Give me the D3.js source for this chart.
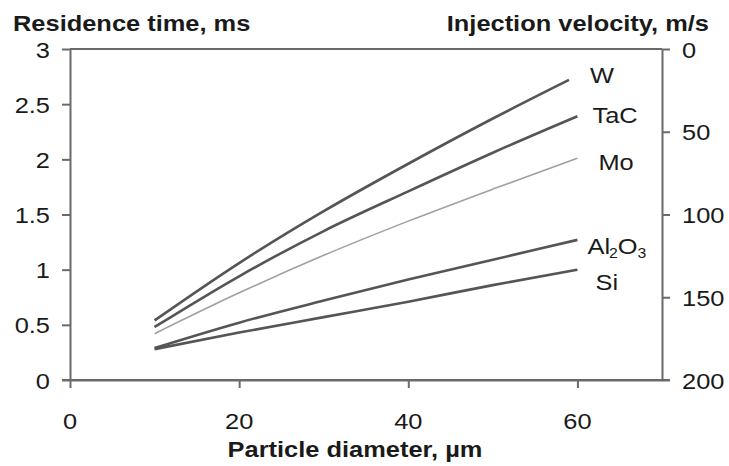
<!DOCTYPE html>
<html>
<head>
<meta charset="utf-8">
<script src="https://cdn.jsdelivr.net/npm/d3@7/dist/d3.min.js"></script>
<style>
  html, body { margin: 0; padding: 0; background: #fff; }
  svg text { font-family: "Liberation Sans", Arial, sans-serif; fill: #1a1a1a; }
</style>
</head>
<body>
<svg id="chart" width="729" height="466"></svg>
<script>
// ---- data ----
const diameters  = [10, 20, 30, 40, 50, 60];
const wDiameters = [10, 20, 30, 40, 50, 59];
const seriesNames = ["W", "TaC", "Mo", "Al2O3", "Si"];
const valuesW     = [0.54, 1.06, 1.53, 1.96, 2.37, 2.72];
const valuesTaC   = [0.48, 0.94, 1.35, 1.71, 2.06, 2.39];
const valuesMo    = [0.42, 0.79, 1.13, 1.44, 1.73, 2.01];
const valuesAl2O3 = [0.29, 0.52, 0.72, 0.91, 1.09, 1.27];
const valuesSi    = [0.28, 0.43, 0.57, 0.71, 0.86, 1.00];
const xTicks      = [0, 20, 40, 60];
const yLeftTicks  = [0, 0.5, 1, 1.5, 2, 2.5, 3];
const yRightTicks = [0, 50, 100, 150, 200];

const series = [
  { name: "W",     xs: wDiameters, ys: valuesW },
  { name: "TaC",   xs: diameters,  ys: valuesTaC },
  { name: "Mo",    xs: diameters,  ys: valuesMo },
  { name: "Al2O3", xs: diameters,  ys: valuesAl2O3 },
  { name: "Si",    xs: diameters,  ys: valuesSi }
];

// ---- layout ----
const L = 70, R = 662, T = 49, B = 380;
const SX = 1.13, FS = 22.5;
const axisColor = "#6a6a6a";

const x  = d3.scaleLinear().domain([0, 70]).range([L, R]);
const yL = d3.scaleLinear().domain([0, 3]).range([B, T]);
const yR = d3.scaleLinear().domain([0, 200]).range([T, B]);

const svg = d3.select("#chart");

function label(g, tx, ty, txt, anchor, bold, size) {
  return g.append("text")
    .attr("transform", `translate(${tx},${ty}) scale(${SX},1)`)
    .attr("text-anchor", anchor)
    .style("font-size", (size || FS) + "px")
    .style("font-weight", bold ? "bold" : "normal")
    .text(txt);
}

// top border
svg.append("line").attr("x1", L).attr("x2", R).attr("y1", T).attr("y2", T)
  .attr("stroke", axisColor).attr("stroke-width", 2);

// left axis
const gL = svg.append("g").attr("transform", `translate(${L},0)`)
  .call(d3.axisLeft(yL).tickValues(yLeftTicks).tickSize(8).tickSizeOuter(0).tickFormat(""));
// right axis
const gR = svg.append("g").attr("transform", `translate(${R},0)`)
  .call(d3.axisRight(yR).tickValues(yRightTicks).tickSize(8).tickSizeOuter(0).tickFormat(""));
// bottom axis
const gB = svg.append("g").attr("transform", `translate(0,${B})`)
  .call(d3.axisBottom(x).tickValues(xTicks).tickSize(8).tickSizeOuter(0).tickFormat(""));

[gL, gR, gB].forEach(g => {
  g.selectAll("path").attr("stroke", axisColor).attr("stroke-width", 2);
  g.selectAll("line").attr("stroke", axisColor).attr("stroke-width", 2);
});
// extend bottom axis line to the y-axis tick ends
svg.append("line").attr("x1", L - 8).attr("x2", R + 8).attr("y1", B).attr("y2", B)
  .attr("stroke", axisColor).attr("stroke-width", 2);

// tick labels
const gt = svg.append("g");
yLeftTicks.forEach(v => label(gt, L - 20, yL(v) + 8.5, d3.format("")(v), "end"));
yRightTicks.forEach(v => label(gt, R + 20, yR(v) + 8.5, String(v), "start"));
xTicks.forEach(v => label(gt, x(v), B + 49, String(v), "middle"));

// titles
label(svg, 13, 31, "Residence time, ms", "start", true);
label(svg, 709, 31, "Injection velocity, m/s", "end", true);
label(svg, 355, 457, "Particle diameter, \u00b5m", "middle", true);

// lines
const line = d3.line().x(d => x(d[0])).y(d => yL(d[1])).curve(d3.curveMonotoneX);
series.forEach(s => {
  const pts = s.xs.map((v, i) => [v, s.ys[i]]);
  const isMo = s.name === "Mo";
  svg.append("path").attr("d", line(pts))
    .attr("fill", "none")
    .attr("stroke", isMo ? "#a0a0a0" : "#555")
    .attr("stroke-width", isMo ? 1.6 : 2.6)
    .attr("stroke-linejoin", "round");
});

// series labels (offsets relative to line ends)
const labelOffsets = { W: [21, 3], TaC: [15, 7], Mo: [21, 12], Al2O3: [10, 14], Si: [18, 20] };
series.forEach(s => {
  const n = s.xs.length - 1;
  const lx = x(s.xs[n]) + labelOffsets[s.name][0];
  const ly = yL(s.ys[n]) + labelOffsets[s.name][1];
  if (s.name === "Al2O3") {
    const t = svg.append("text")
      .attr("transform", `translate(${lx},${ly}) scale(${SX},1)`)
      .style("font-size", FS + "px");
    t.append("tspan").text("Al");
    t.append("tspan").attr("dx", -1).attr("dy", 4).style("font-size", "14px").text("2");
    t.append("tspan").attr("dy", -4).text("O");
    t.append("tspan").attr("dy", 4).style("font-size", "14px").text("3");
  } else {
    label(svg, lx, ly, s.name, "start");
  }
});
</script>
</body>
</html>
